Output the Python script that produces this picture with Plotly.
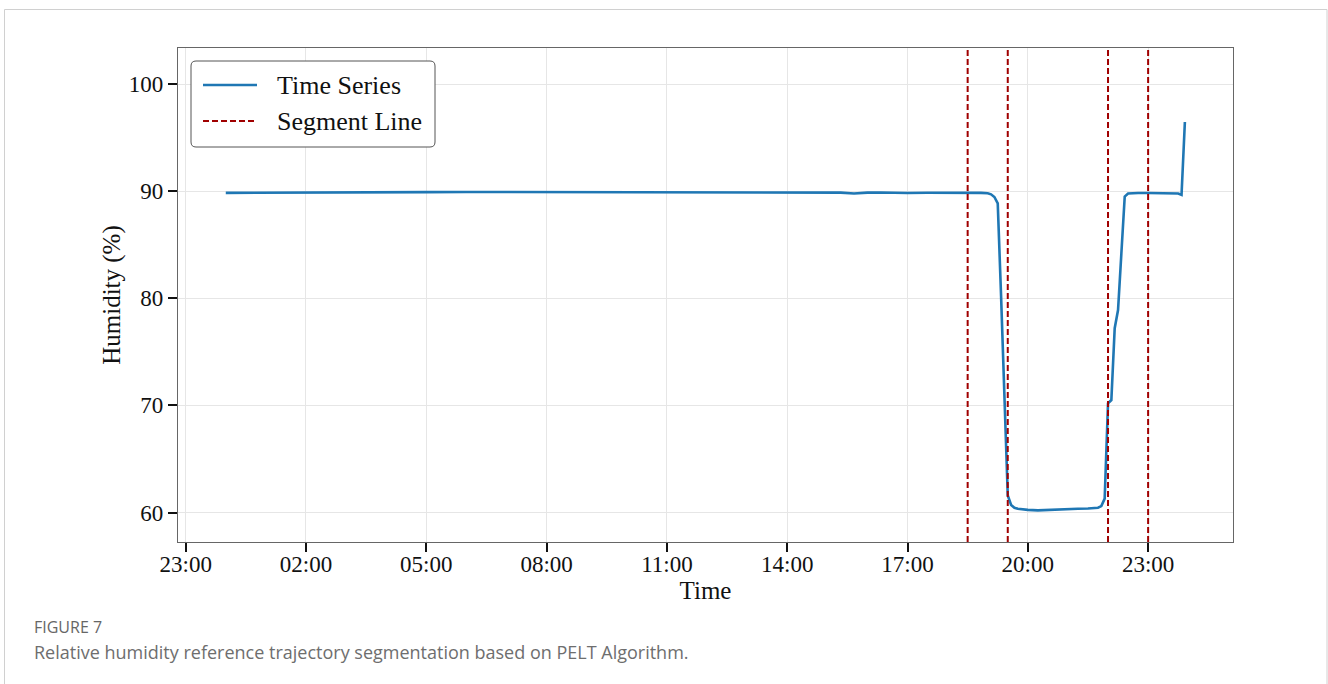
import plotly.graph_objects as go

# Relative humidity reference trajectory (one day, %RH)
DAY = "2023-06-02"
times = [
    "00:00", "01:00", "02:00", "03:00", "03:40", "03:50", "05:00", "06:00",
    "07:00", "08:00", "09:00", "10:00", "11:00", "11:30", "12:00", "12:30",
    "13:00", "13:20", "13:40", "14:00", "14:20", "14:40", "15:00", "15:20",
    "15:40", "16:00", "16:20", "16:40", "17:00", "17:30", "18:00", "18:30",
    "18:50", "19:00", "19:05", "19:10", "19:15", "19:20", "19:25", "19:30",
    "19:35", "19:40", "19:45", "19:50", "20:00", "20:15", "20:30", "20:45",
    "21:00", "21:15", "21:30", "21:40", "21:45", "21:50", "21:55", "22:00",
    "22:05", "22:10", "22:15", "22:20", "22:25", "22:30", "22:35", "22:45",
    "23:00", "23:30", "23:45", "23:50", "23:55",
]
humidity = [
    89.84, 89.84, 89.84, 89.84, 89.85, 89.90, 89.91, 89.92,
    89.92, 89.92, 89.90, 89.90, 89.89, 89.87, 89.89, 89.88,
    89.89, 89.85, 89.90, 89.87, 89.89, 89.86, 89.88, 89.86,
    89.78, 89.86, 89.87, 89.84, 89.83, 89.85, 89.86, 89.86,
    89.84, 89.80, 89.70, 89.45, 88.85, 80.20, 70.80, 61.60,
    60.70, 60.45, 60.35, 60.30, 60.25, 60.20, 60.22, 60.30,
    60.32, 60.35, 60.38, 60.42, 60.45, 60.60, 61.30, 70.20,
    70.50, 77.20, 78.90, 84.20, 89.50, 89.78, 89.82, 89.83,
    89.83, 89.83, 89.78, 89.65, 96.45,
]

# Change points found by PELT
change_points = ["18:30", "19:30", "22:00", "23:00"]

x_tick_vals = ["2023-06-01 23:00", "2023-06-02 02:00", "2023-06-02 05:00",
               "2023-06-02 08:00", "2023-06-02 11:00", "2023-06-02 14:00",
               "2023-06-02 17:00", "2023-06-02 20:00", "2023-06-02 23:00"]
x_tick_text = ["23:00", "02:00", "05:00", "08:00", "11:00", "14:00",
               "17:00", "20:00", "23:00"]
y_tick_vals = [60, 70, 80, 90, 100]

SERIES_NAME = "Time Series"
SEGMENT_NAME = "Segment Line"

SERIF = "Liberation Serif, Times New Roman, serif"
SANS = "Open Sans, Noto Sans, sans-serif"
BLUE = "#1f77b4"
RED = "#a00000"
SERIES_LINE = dict(color=BLUE, width=2.6)
SEGMENT_LINE = dict(color=RED, width=2, dash="6px,3px")

# canvas / plot-area geometry (pixels)
W, H = 1328, 684
ML, MR, MT, MB = 178, 95, 48, 142
PW, PH = W - ML - MR, H - MT - MB


def px(xp):
    """pixel column -> paper x"""
    return (xp - ML) / PW


def py(yp):
    """pixel row -> paper y"""
    return (H - MB - yp) / PH


fig = go.Figure()
fig.add_trace(go.Scatter(
    x=[f"{DAY} {t}" for t in times], y=humidity, mode="lines",
    name=SERIES_NAME, line=SERIES_LINE, showlegend=False,
))

for t in change_points:
    fig.add_shape(
        type="line", xref="x", yref="paper",
        x0=f"{DAY} {t}", x1=f"{DAY} {t}", y0=0, y1=1,
        line=SEGMENT_LINE,
    )

axis_common = dict(
    showline=True, linecolor="#666666", linewidth=1.2, mirror=True,
    showgrid=True, gridcolor="#e6e6e6", gridwidth=1,
    ticks="outside", ticklen=9, tickwidth=2, tickcolor="#111111",
    tickfont=dict(family=SERIF, size=23, color="#111111"),
    zeroline=False,
)

fig.update_xaxes(
    type="date",
    range=["2023-06-01 22:48:30", "2023-06-03 01:07:00"],
    tickvals=x_tick_vals, ticktext=x_tick_text,
    ticklabelstandoff=-8,
    title=dict(text="Time", font=dict(family=SERIF, size=25, color="#111111"),
               standoff=2),
    **axis_common,
)
fig.update_yaxes(
    range=[57.25, 103.36], tickvals=y_tick_vals,
    title=dict(text="Humidity (%)", font=dict(family=SERIF, size=25, color="#111111"),
               standoff=1),
    **axis_common,
)

# Legend box with rounded corners
lx0, lx1, ly0, ly1, r = 191, 435, 61, 147, 5
rx, ry = r / PW, r / PH
X0, X1, Y0, Y1 = px(lx0), px(lx1), py(ly1), py(ly0)
legend_path = (
    f"M {X0 + rx},{Y0} L {X1 - rx},{Y0} Q {X1},{Y0} {X1},{Y0 + ry} "
    f"L {X1},{Y1 - ry} Q {X1},{Y1} {X1 - rx},{Y1} "
    f"L {X0 + rx},{Y1} Q {X0},{Y1} {X0},{Y1 - ry} "
    f"L {X0},{Y0 + ry} Q {X0},{Y0} {X0 + rx},{Y0} Z"
)
fig.add_shape(type="path", xref="paper", yref="paper", path=legend_path,
              line=dict(color="#555555", width=1), fillcolor="white")

legend_rows = [(SERIES_NAME, SERIES_LINE, 85), (SEGMENT_NAME, SEGMENT_LINE, 121)]
for label, style, row in legend_rows:
    fig.add_shape(type="line", xref="paper", yref="paper",
                  x0=px(203), x1=px(257), y0=py(row), y1=py(row), line=style)
    fig.add_annotation(text=label, xref="paper", yref="paper",
                       x=px(275), y=py(row), xanchor="left", yanchor="middle",
                       showarrow=False,
                       font=dict(family=SERIF, size=26, color="#111111"))

# Figure frame
fig.add_shape(type="rect", xref="paper", yref="paper",
              x0=px(4.5), x1=px(1327), y0=py(700), y1=py(9.5),
              line=dict(color="#d0d0d0", width=1), fillcolor="rgba(0,0,0,0)",
              layer="below")

fig.add_annotation(text="FIGURE 7", xref="paper", yref="paper",
                   x=px(32), y=py(627), xanchor="left", yanchor="middle",
                   showarrow=False,
                   font=dict(family=SANS, size=16, color="#666666"))
fig.add_annotation(text="Relative humidity reference trajectory segmentation based on PELT Algorithm.",
                   xref="paper", yref="paper",
                   x=px(32), y=py(652), xanchor="left", yanchor="middle",
                   showarrow=False,
                   font=dict(family=SANS, size=18, color="#6e6e6e"))

fig.update_layout(
    width=W, height=H,
    margin=dict(l=ML, r=MR, t=MT, b=MB),
    plot_bgcolor="white", paper_bgcolor="white",
    showlegend=False,
)

fig.write_html("out.html")
